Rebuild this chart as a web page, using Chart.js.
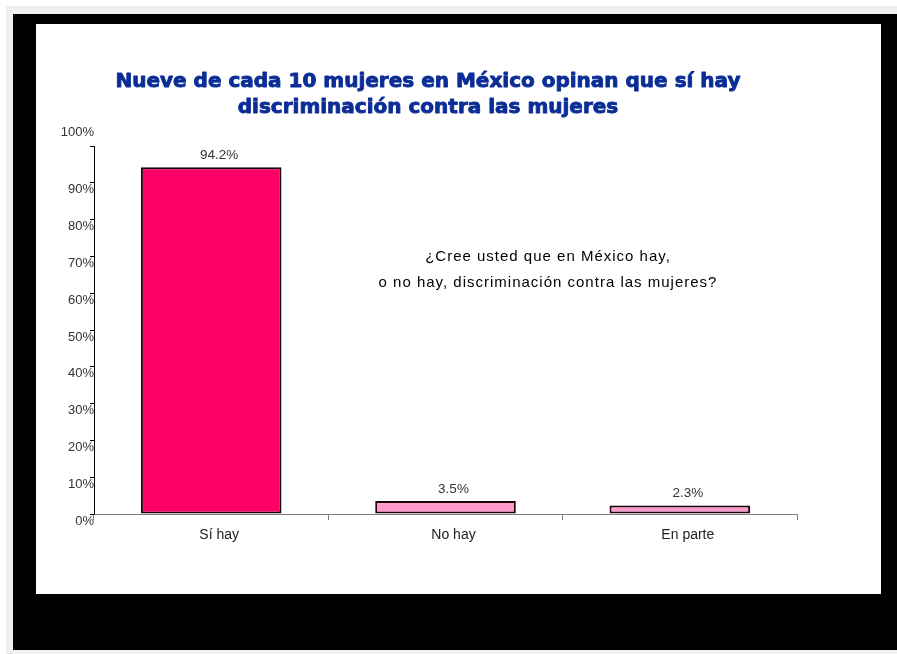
<!DOCTYPE html>
<html>
<head>
<meta charset="utf-8">
<script src="https://cdn.jsdelivr.net/npm/chart.js@4/dist/chart.umd.min.js"></script>
<style>
  html, body { margin: 0; padding: 0; background: #ffffff; width: 897px; height: 654px; overflow: hidden; }
  #gray { position: absolute; left: 6px; top: 6px; width: 891px; height: 648px; background: #f0f0f0; }
  #frame { position: absolute; left: 13px; top: 14px; width: 884px; height: 636px; background: #000000; }
  #panel { position: absolute; left: 36px; top: 24px; width: 845px; height: 570px; background: #ffffff; }
  #wrap { position: absolute; left: 36px; top: 24px; width: 784px; height: 570px; }
  #note { position: absolute; left: 348px; top: 243px; width: 400px; text-align: center;
          font-family: "Liberation Sans", Arial, sans-serif; font-size: 15px; letter-spacing: 1px;
          line-height: 26px; color: #000; }
</style>
</head>
<body>
<div id="gray"></div>
<div id="frame"></div>
<div id="panel"></div>
<div id="wrap"><canvas id="c" width="784" height="570"></canvas></div>
<div id="note">¿Cree usted que en México hay,<br>o no hay, discriminación contra las mujeres?</div>
<script>
const categories = ["Sí hay", "No hay", "En parte"];
const values = [94.2, 3.5, 2.3];
const valueLabels = ["94.2%", "3.5%", "2.3%"];
const yTicks = [0, 10, 20, 30, 40, 50, 60, 70, 80, 90, 100];
const titleLines = ["Nueve de cada 10 mujeres en México opinan que sí hay", "discriminación contra las mujeres"];
const barColors = ["#FF0066", "#FF99CC", "#FF99CC"];

const TITLE_FONT = { family: "'DejaVu Sans', sans-serif", size: 20, weight: "bold", lineHeight: 1.3 };
const TITLE_PAD = { top: 45, bottom: 25 };
const TITLE_COLOR = "#0b2d96";
const TICK_FONT_FAMILY = "'Liberation Sans', Arial, sans-serif";

const valueLabelPlugin = {
  id: "valueLabels",
  afterDatasetsDraw(chart) {
    const ctx = chart.ctx;
    const meta = chart.getDatasetMeta(0);
    ctx.save();
    ctx.font = "13.5px " + TICK_FONT_FAMILY;
    ctx.fillStyle = "#333333";
    ctx.textAlign = "center";
    ctx.textBaseline = "middle";
    meta.data.forEach((bar, i) => {
      ctx.fillText(valueLabels[i], bar.x + 8, bar.y - 12);
    });
    ctx.restore();
  }
};

// draws the (heavier) title centred on the whole canvas; the built-in title only reserves the space
const heavyTitlePlugin = {
  id: "heavyTitle",
  afterDraw(chart) {
    const tb = chart.titleBlock;
    if (!tb) return;
    const ctx = chart.ctx;
    const lh = TITLE_FONT.size * TITLE_FONT.lineHeight;
    const cx = chart.width / 2;
    ctx.save();
    ctx.font = "bold " + TITLE_FONT.size + "px " + TITLE_FONT.family;
    ctx.fillStyle = TITLE_COLOR;
    ctx.strokeStyle = TITLE_COLOR;
    ctx.lineWidth = 0.9;
    ctx.lineJoin = "round";
    ctx.textAlign = "center";
    ctx.textBaseline = "middle";
    titleLines.forEach((t, i) => {
      const y = tb.top + TITLE_PAD.top + lh * (i + 0.5);
      ctx.fillText(t, cx, y);
      ctx.strokeText(t, cx, y);
    });
    ctx.restore();
  }
};

new Chart(document.getElementById("c"), {
  type: "bar",
  data: {
    labels: categories,
    datasets: [{
      data: values,
      backgroundColor: barColors,
      borderColor: "#1a0008",
      borderWidth: 2,
      borderSkipped: false,
      barPercentage: 0.6,
      categoryPercentage: 1.0
    }]
  },
  options: {
    responsive: false,
    devicePixelRatio: 1,
    animation: false,
    layout: { padding: { left: 0, right: 23, top: 0, bottom: 0 } },
    plugins: {
      legend: { display: false },
      tooltip: { enabled: false },
      title: {
        display: true,
        text: titleLines,
        color: "rgba(0,0,0,0)",
        font: TITLE_FONT,
        padding: TITLE_PAD
      }
    },
    scales: {
      x: {
        grid: { display: true, drawOnChartArea: false, drawTicks: true, tickLength: 6, color: "#808080", offset: true },
        border: { display: true, color: "#808080", width: 1 },
        ticks: { color: "#222222", font: { family: TICK_FONT_FAMILY, size: 14 }, padding: 7, labelOffset: 8 },
        afterFit(scale) { scale.height = 80; }
      },
      y: {
        min: 0, max: 100,
        afterBuildTicks(scale) { scale.ticks = yTicks.map(v => ({ value: v })); },
        grid: { display: true, drawOnChartArea: false, drawTicks: true, tickLength: 4, color: "#000000" },
        border: { display: true, color: "#000000", width: 1 },
        ticks: {
          autoSkip: false,
          color: "#333333",
          font: (c) => (c.tick && c.tick.value === 100)
            ? { family: TICK_FONT_FAMILY, size: 13, lineHeight: 1.6 }
            : { family: TICK_FONT_FAMILY, size: 13 },
          padding: -4,
          labelOffset: 7,
          callback: (v) => v === 100 ? [v + "%", "", ""] : v + "%"
        },
        afterFit(scale) { scale.width = 58; }
      }
    }
  },
  plugins: [valueLabelPlugin, heavyTitlePlugin]
});
</script>
</body>
</html>
